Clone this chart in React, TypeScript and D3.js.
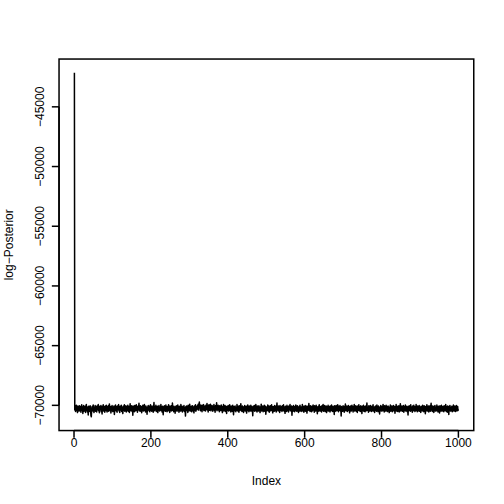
import React from "react";
import * as d3 from "d3";

const logPosterior: number[] = [
  -42150, -70380, -70120, -70520, -70200, -69990, -70440, -70160, -70610, -70060, -70350, -70140, -70480, -70030, -70310, -70460, -70090, -70570, -70220, -69950,
  -70410, -70130, -70680, -70270, -70020, -70490, -70170, -70400, -70080, -70590, -70240, -69920, -70430, -70110, -70550, -70290, -70800, -70070, -70390, -70190,
  -70520, -70040, -70360, -70850, -70960, -70300, -70100, -70470, -70180, -69970, -70420, -70600, -70130, -70340, -70010, -70500, -70230, -70090, -70560, -70050,
  -70380, -70260, -69930, -70450, -70150, -70620, -70070, -70370, -70210, -70020, -70530, -70160, -70720, -70080, -70410, -69960, -70480, -70200, -70110, -70580,
  -70060, -70340, -70440, -69990, -70280, -70550, -70120, -70390, -70040, -70490, -70190, -69880, -70430, -70250, -70090, -70640, -70170, -70460, -70010, -70330,
  -70520, -70140, -70370, -70060, -70760, -70230, -70420, -69980, -70300, -70480, -70110, -70570, -70050, -70350, -70200, -69940, -70460, -70130, -70600, -70080,
  -70400, -70240, -70000, -70510, -70160, -70320, -70690, -70070, -70410, -70140, -69960, -70490, -70210, -70380, -70030, -70560, -70120, -70440, -70270, -69990,
  -70500, -70180, -70090, -70590, -70290, -69870, -70430, -70150, -70470, -70040, -70360, -70220, -70830, -70060, -70400, -70170, -70530, -70020, -70310, -70460,
  -70110, -69950, -70420, -70250, -70570, -70070, -70380, -70160, -69830, -70450, -70130, -70500, -70030, -70330, -70230, -70620, -70090, -70400, -69990, -70480,
  -70200, -70330, -69920, -70440, -70120, -70550, -70060, -70360, -70240, -70740, -70140, -70470, -70010, -70390, -70190, -70080, -70540, -70280, -69960, -70420,
  -70230, -70490, -70050, -70340, -70150, -70580, -70170, -69760, -70450, -70100, -70400, -70260, -70000, -70510, -70140, -70380, -70070, -70610, -70220, -70430,
  -70020, -70360, -70470, -70130, -70300, -69930, -70420, -70180, -70560, -70080, -70370, -70790, -70120, -70460, -70040, -70330, -70240, -70500, -69980, -70400,
  -70170, -70530, -70090, -70310, -70450, -69950, -70380, -70140, -70590, -70060, -70350, -70230, -70470, -70010, -70420, -69810, -70290, -70120, -70540, -70070,
  -70390, -70190, -70660, -70110, -70440, -70030, -70330, -70490, -70150, -69970, -70400, -70260, -70570, -70080, -70360, -70180, -70480, -69940, -70450, -70220,
  -70080, -70550, -70300, -70120, -70410, -70010, -70520, -70190, -70380, -70900, -70100, -70440, -70050, -70340, -70230, -70600, -70000, -70470, -70160, -70370,
  -69910, -70480, -70180, -70400, -70070, -70540, -70280, -70030, -70450, -70130, -70350, -70630, -70060, -70420, -70200, -69960, -70500, -70110, -70380, -70240,
  -70020, -70310, -69910, -70400, -70080, -69720, -70200, -70040, -70450, -69970, -70230, -70060, -70530, -70000, -70350, -70120, -69940, -70440, -70050, -70280,
  -70090, -70470, -69990, -70340, -70170, -69840, -70390, -70020, -70550, -70130, -69960, -70420, -70070, -70300, -69900, -70460, -70110, -70370, -70010, -70250,
  -70490, -70060, -70290, -69940, -70410, -70150, -70580, -70030, -70350, -70120, -69790, -70450, -70080, -70310, -69990, -70400, -70160, -70530, -70040, -70320,
  -70140, -70440, -69980, -70360, -70210, -70610, -70070, -70400, -69930, -70470, -70130, -70330, -70020, -70510, -70240, -70090, -70690, -70100, -70420, -70280,
  -70020, -70480, -70190, -70370, -69950, -70440, -70130, -70550, -70060, -70350, -70230, -70500, -70000, -70390, -70780, -70110, -70460, -70200, -70050, -70380,
  -70530, -70150, -70410, -69940, -70310, -70470, -70080, -70330, -70570, -70040, -70430, -70170, -70360, -69860, -70450, -70120, -70510, -70060, -70400, -70240,
  -70590, -70110, -70370, -70010, -70480, -70200, -70420, -70070, -70650, -70300, -70140, -69970, -70440, -70230, -70540, -70050, -70390, -70160, -70470, -69990,
  -70340, -70100, -70520, -70260, -70870, -70080, -70430, -70190, -70020, -70490, -70130, -70400, -69930, -70460, -70280, -70560, -70060, -70370, -70170, -70480,
  -70030, -70420, -70220, -70610, -70110, -70350, -69900, -70470, -70150, -70390, -70050, -70540, -70250, -70430, -70000, -70500, -70190, -70080, -70740, -70310,
  -70450, -70120, -70370, -69980, -70480, -70240, -70060, -70570, -70170, -70400, -70040, -70460, -70290, -69950, -70420, -70140, -70630, -70090, -70380, -70210,
  -70500, -70020, -70430, -70270, -70080, -70550, -70190, -69810, -70390, -70110, -70470, -70050, -70350, -70160, -70590, -70010, -70440, -70230, -70370, -70100,
  -70520, -70040, -70330, -70420, -69950, -70480, -70140, -70360, -70670, -70070, -70400, -70180, -70510, -70000, -70440, -70260, -70120, -70560, -70050, -70380,
  -70210, -69930, -70460, -70150, -70390, -70060, -70820, -70310, -70120, -70490, -70020, -70420, -70230, -70530, -70090, -70370, -69970, -70450, -70170, -70500,
  -70040, -70400, -70130, -70600, -70270, -70080, -70470, -69990, -70360, -70160, -70520, -70110, -70430, -69940, -70480, -70220, -70100, -70580, -70050, -70390,
  -70150, -70490, -70010, -70370, -70290, -70650, -70090, -70440, -70060, -70330, -69840, -70420, -70180, -70510, -70030, -70360, -70140, -70540, -70080, -70460,
  -70230, -69980, -70400, -70160, -70570, -70040, -70380, -70250, -70480, -70000, -70440, -70120, -70710, -70190, -70360, -70070, -70500, -69960, -70410, -70220,
  -70470, -70100, -70330, -70550, -70030, -70420, -70170, -69920, -70490, -70140, -70380, -70020, -70520, -70240, -70400, -70060, -70610, -70120, -70450, -70280,
  -70000, -70480, -70200, -70370, -70090, -70560, -70050, -70430, -70310, -69970, -70460, -70130, -70510, -70080, -70350, -70240, -70760, -70040, -70410, -70170,
  -70490, -70020, -70380, -70140, -70440, -69950, -70300, -70530, -70070, -70250, -70420, -70010, -70480, -70160, -70900, -70100, -70360, -70190, -70500, -70040,
  -70410, -70120, -70580, -70080, -70330, -69890, -70460, -70200, -70390, -70050, -70520, -70130, -70440, -70020, -70350, -70180, -70630, -70090, -70430, -70060,
  -70480, -70250, -69990, -70400, -70140, -70550, -70070, -70370, -69930, -70470, -70110, -70390, -70030, -70500, -70230, -70100, -70590, -70050, -70420, -70170,
  -69960, -70450, -70290, -70120, -70510, -70030, -70410, -70200, -70690, -70080, -70440, -70160, -70000, -70490, -70260, -70090, -70540, -70370, -70060, -70460,
  -70180, -69810, -70420, -70130, -70340, -70570, -70040, -70400, -70220, -70480, -70010, -70360, -70120, -70520, -70070, -70450, -70250, -69950, -70470, -70150,
  -70380, -70600, -70090, -70430, -70050, -70310, -70490, -69980, -70410, -70170, -70530, -70060, -70370, -70140, -70730, -70230, -70460, -70020, -70390, -70110,
  -70500, -70070, -70330, -69920, -70440, -70160, -70560, -70040, -70400, -70210, -70480, -70000, -70360, -70120, -70520, -70280, -70050, -70470, -70130, -70610,
  -70220, -70420, -69970, -70490, -70100, -70370, -70060, -70540, -70180, -70430, -70020, -70460, -70270, -70090, -70660, -70150, -70390, -69940, -70480, -70240,
  -70080, -70510, -70130, -70400, -70030, -70550, -70200, -70360, -69860, -70470, -70110, -70420, -70060, -70500, -70170, -70380, -70010, -70580, -70120, -70440,
  -70250, -69980, -70480, -70150, -70390, -70070, -70530, -70300, -70810, -70100, -70450, -70040, -70410, -70230, -70490, -69960, -70430, -70140, -70360, -70570,
  -70060, -70470, -70190, -70000, -70420, -70250, -70520, -70090, -70440, -69930, -70370, -70160, -70540, -70050, -70480, -70220, -70390, -70020, -70500, -70130,
  -70430, -70590, -70080, -70350, -70170, -70470, -69990, -70410, -70230, -70530, -70040, -70380, -70120, -70700, -70090, -70450, -70280, -69950, -70480, -70190,
  -70360, -70060, -70550, -70140, -70430, -70030, -70490, -70110, -69830, -70400, -70220, -70510, -70050, -70370, -70180, -70600, -70080, -70450, -70010, -70330,
  -70480, -70130, -70390, -69970, -70460, -70240, -70560, -70070, -70420, -70160, -70640, -70040, -70370, -70120, -70500, -70000, -70410, -70230, -70470, -70090,
  -70270, -70530, -70030, -70440, -70150, -70380, -69940, -70490, -70100, -70360, -70570, -70060, -70450, -70200, -70770, -70080, -70410, -70020, -70480, -70170,
  -70350, -70460, -70070, -70540, -70190, -70420, -69980, -70480, -70120, -70390, -70050, -70520, -70230, -70440, -70010, -70470, -70280, -70090, -70430, -70330,
];

const xTicks = [0, 200, 400, 600, 800, 1000];
const yTicks = [-70000, -65000, -60000, -55000, -50000, -45000];
const xLabel = "Index";
const yLabel = "log\u2212Posterior";

const W = 504;
const H = 504;
const LINE = 14.4;
const left = 4.1 * LINE;
const right = W - 2.1 * LINE;
const top = 4.1 * LINE;
const bottom = H - 5.1 * LINE;
const FONT = "'Liberation Sans', Arial, Helvetica, sans-serif";
const LW = 1.5;

const fmt = (v: number) => String(v).replace("-", "\u2212");

export default function App() {
  const idx = logPosterior.map((_, i) => i + 1);
  const xr = [1, logPosterior.length];
  const xPad = (xr[1] - xr[0]) * 0.04;
  const x = d3.scaleLinear().domain([xr[0] - xPad, xr[1] + xPad]).range([left, right]);
  const [ymin, ymax] = d3.extent(logPosterior) as [number, number];
  const yPad = (ymax - ymin) * 0.04;
  const y = d3.scaleLinear().domain([ymin - yPad, ymax + yPad]).range([bottom, top]);

  const line = d3
    .line<number>()
    .x((_, i) => x(idx[i]))
    .y((d) => y(d));

  const tick = 0.5 * LINE;

  return (
    <svg width={W} height={H} style={{ display: "block", position: "absolute", left: 0, top: 0 }} fontFamily={FONT}>
      <rect x={0} y={0} width={W} height={H} fill="#fff" />
      <path d={line(logPosterior) || ""} fill="none" stroke="#000" strokeWidth={LW} strokeLinejoin="round" />
      <rect x={left} y={top} width={right - left} height={bottom - top} fill="none" stroke="#000" strokeWidth={LW} />
      {/* x axis */}
      <line x1={x(xTicks[0])} x2={x(xTicks[xTicks.length - 1])} y1={bottom} y2={bottom} stroke="#000" strokeWidth={LW} />
      {xTicks.map((t) => (
        <g key={t}>
          <line x1={x(t)} x2={x(t)} y1={bottom} y2={bottom + tick} stroke="#000" strokeWidth={LW} />
          <text x={x(t)} y={447} fontSize={12} textAnchor="middle">
            {fmt(t)}
          </text>
        </g>
      ))}
      {/* y axis */}
      <line x1={left} x2={left} y1={y(yTicks[0])} y2={y(yTicks[yTicks.length - 1])} stroke="#000" strokeWidth={LW} />
      {yTicks.map((t) => (
        <g key={t}>
          <line x1={left} x2={left - tick} y1={y(t)} y2={y(t)} stroke="#000" strokeWidth={LW} />
          <text transform={`translate(43.5,${y(t)}) rotate(-90)`} fontSize={12} textAnchor="middle">
            {fmt(t)}
          </text>
        </g>
      ))}
      <text x={(left + right) / 2} y={485} fontSize={12} textAnchor="middle">
        {xLabel}
      </text>
      <text transform={`translate(13,${(top + bottom) / 2}) rotate(-90)`} fontSize={12} textAnchor="middle">
        {yLabel}
      </text>
    </svg>
  );
}
